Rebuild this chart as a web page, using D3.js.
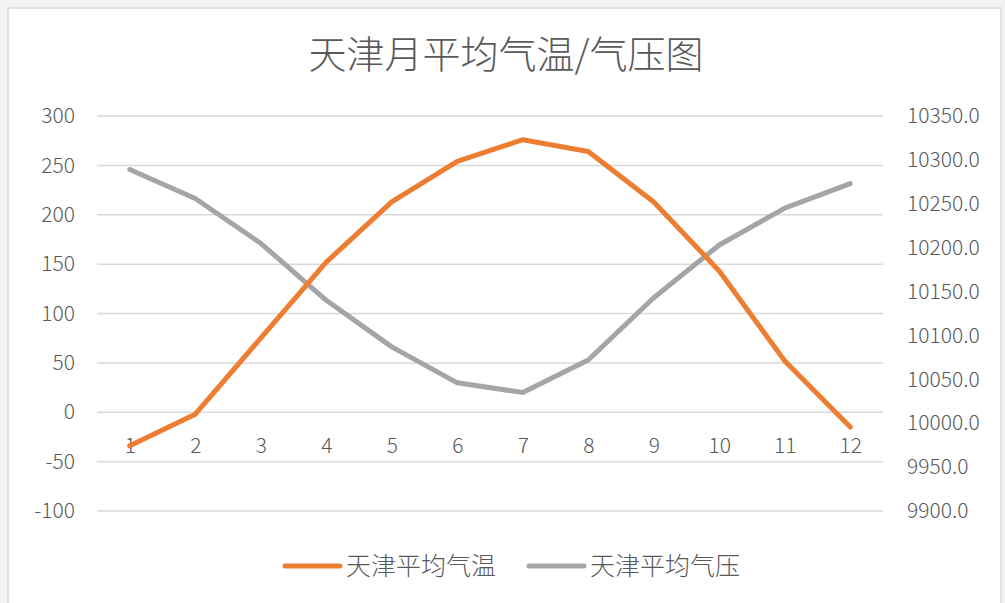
<!DOCTYPE html>
<html><head><meta charset="utf-8">
<script src="https://cdn.jsdelivr.net/npm/d3@7"></script>
<style>
html,body{margin:0;padding:0;background:#fff;}
text{font-family:"Noto Sans CJK SC","Noto Sans",sans-serif;fill:#595959;}
</style></head>
<body><svg id="c" width="1005" height="603"></svg>
<script>
const months = ["1","2","3","4","5","6","7","8","9","10","11","12"];
const tempValues = [-34, -2, 75, 152, 213, 254, 276, 264, 213, 143, 52, -15];
const pressureValues = [10289, 10256, 10205, 10140, 10087, 10046, 10035, 10072, 10143, 10203, 10245, 10273];
const leftTicks = [-100, -50, 0, 50, 100, 150, 200, 250, 300];
const rightTicks = [9900, 9950, 10000, 10050, 10100, 10150, 10200, 10250, 10300, 10350];
const seriesNames = ["天津平均气温", "天津平均气压"];
const seriesColors = ["#ED7D31", "#A5A5A5"];
const title = "天津月平均气温/气压图";

const svg = d3.select("#c");
// frame
svg.append("rect").attr("x",0).attr("y",0).attr("width",1005).attr("height",603).attr("fill","#f2f2f2");
svg.append("rect").attr("x",8).attr("y",8).attr("width",993).attr("height",600)
  .attr("fill","#fff").attr("stroke","#d9d9d9").attr("stroke-width",1.5);

const L = 97, R = 883, T = 116, B = 511;
const x = d3.scalePoint().domain(months).range([L, R]).padding(0.5);
const yL = d3.scaleLinear().domain([-100, 300]).range([B, T]);
const yR = d3.scaleLinear().domain([9900, 10350]).range([B, T]);

svg.append("text").attr("x", 506).attr("y", 68).attr("text-anchor","middle")
  .style("font-size","38px").style("font-weight","300").text(title);

// gridlines
svg.append("g").selectAll("line").data(leftTicks).join("line")
  .attr("x1", L).attr("x2", R).attr("y1", d=>yL(d)).attr("y2", d=>yL(d))
  .attr("stroke","#d9d9d9").attr("stroke-width",1.5);

const fmtInt = d => (d < 0 ? "-" : "") + Math.abs(d).toString();

// left axis
const la = svg.append("g").attr("transform",`translate(${L-22},0)`)
  .call(d3.axisLeft(yL).tickValues(leftTicks).tickSize(0).tickPadding(0).tickFormat(fmtInt));
la.select(".domain").remove();
la.selectAll("text").style("font-size","21px").style("font-weight","300").style("font-family",'"Noto Sans CJK SC",sans-serif').attr("fill","#595959");

// right axis
const ra = svg.append("g").attr("transform",`translate(${R+24},0)`)
  .call(d3.axisRight(yR).tickValues(rightTicks).tickSize(0).tickPadding(0).tickFormat(d3.format(".1f")));
ra.select(".domain").remove();
ra.selectAll("text").style("font-size","21px").style("font-weight","300").style("font-family",'"Noto Sans CJK SC",sans-serif').attr("fill","#595959");

// category axis at 0
const xa = svg.append("g").attr("transform",`translate(0,${yL(0)})`)
  .call(d3.axisBottom(x).tickSize(0).tickPadding(26));
xa.select(".domain").remove();
xa.selectAll("text").style("font-size","21px").style("font-weight","300").style("font-family",'"Noto Sans CJK SC",sans-serif').attr("fill","#595959");

const lineT = d3.line().x((d,i)=>x(months[i])).y(d=>yL(d));
const lineP = d3.line().x((d,i)=>x(months[i])).y(d=>yR(d));
svg.append("path").datum(pressureValues).attr("d", lineP).attr("fill","none")
  .attr("stroke", seriesColors[1]).attr("stroke-width",5).attr("stroke-linejoin","round").attr("stroke-linecap","round");
svg.append("path").datum(tempValues).attr("d", lineT).attr("fill","none")
  .attr("stroke", seriesColors[0]).attr("stroke-width",5).attr("stroke-linejoin","round").attr("stroke-linecap","round");

// legend
const lg = [{x:285},{x:529}];
seriesNames.forEach((n,i)=>{
  const g = svg.append("g");
  g.append("line").attr("x1", lg[i].x).attr("x2", lg[i].x+55).attr("y1",566).attr("y2",566)
    .attr("stroke", seriesColors[i]).attr("stroke-width",5).attr("stroke-linecap","round");
  g.append("text").attr("x", lg[i].x+61).attr("y", 575).style("font-size","25px").style("font-weight","300").text(n);
});
</script></body></html>
